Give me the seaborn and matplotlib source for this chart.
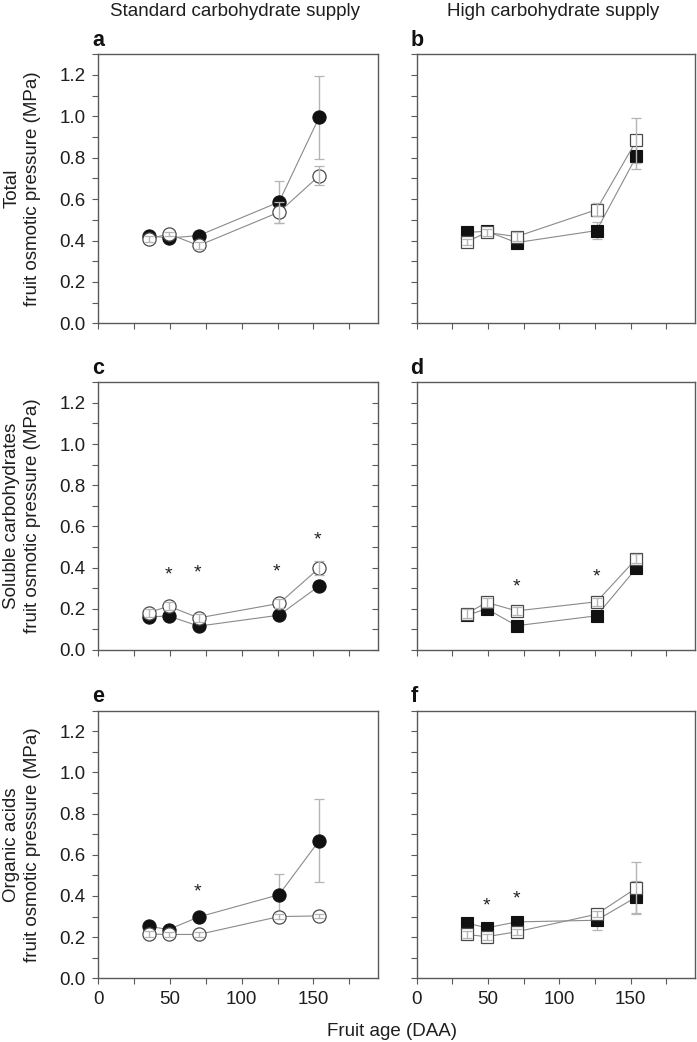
import matplotlib
matplotlib.use("Agg")
import matplotlib.pyplot as plt
from matplotlib.ticker import MultipleLocator
import seaborn as sns

sns.set_style("ticks")
plt.rcParams['font.family'] = ['Liberation Sans', 'DejaVu Sans']

# ---------------- data ----------------
days = [35, 49, 70, 126, 154]

# Total osmotic pressure
total_std_filled = [0.424, 0.412, 0.424, 0.586, 0.996]
total_std_filled_err = [0.01, 0.015, 0.01, 0.10, 0.20]
total_std_open = [0.407, 0.432, 0.376, 0.537, 0.713]
total_std_open_err = [0.015, 0.01, 0.015, 0.05, 0.045]
total_high_filled = [0.439, 0.445, 0.390, 0.448, 0.807]
total_high_filled_err = [0.01, 0.01, 0.01, 0.04, 0.06]
total_high_open = [0.394, 0.439, 0.419, 0.549, 0.884]
total_high_open_err = [0.015, 0.015, 0.02, 0.03, 0.11]

# Soluble carbohydrates
sugar_std_filled = [0.161, 0.165, 0.116, 0.169, 0.311]
sugar_std_filled_err = [0.01, 0.01, 0.01, 0.01, 0.01]
sugar_std_open = [0.181, 0.213, 0.156, 0.226, 0.398]
sugar_std_open_err = [0.02, 0.02, 0.02, 0.02, 0.035]
sugar_high_filled = [0.168, 0.200, 0.118, 0.166, 0.398]
sugar_high_filled_err = [0.01, 0.01, 0.01, 0.01, 0.01]
sugar_high_open = [0.177, 0.231, 0.190, 0.234, 0.444]
sugar_high_open_err = [0.02, 0.02, 0.02, 0.02, 0.02]

# Organic acids
acid_std_filled = [0.253, 0.237, 0.298, 0.406, 0.669]
acid_std_filled_err = [0.01, 0.01, 0.01, 0.10, 0.20]
acid_std_open = [0.215, 0.213, 0.213, 0.300, 0.303]
acid_std_open_err = [0.015, 0.01, 0.01, 0.01, 0.01]
acid_high_filled = [0.269, 0.245, 0.274, 0.282, 0.395]
acid_high_filled_err = [0.01, 0.01, 0.01, 0.045, 0.08]
acid_high_open = [0.213, 0.202, 0.226, 0.311, 0.439]
acid_high_open_err = [0.015, 0.015, 0.015, 0.015, 0.125]

# significance stars (x, y)
stars_c = ([49, 69, 124, 153], [0.366, 0.373, 0.379, 0.535])
stars_d = ([70, 126], [0.306, 0.355])
stars_e = ([69], [0.421])
stars_f = ([49, 70], [0.352, 0.387])
stars_empty = ([], [])

col_titles = ["Standard carbohydrate supply", "High carbohydrate supply"]
row_labels = ["Total\nfruit osmotic pressure (MPa)",
              "Soluble carbohydrates\nfruit osmotic pressure (MPa)",
              "Organic acids\nfruit osmotic pressure (MPa)"]
panel_letters = ["a", "b", "c", "d", "e", "f"]
x_ticks = [0, 50, 100, 150]
y_ticks = [0.0, 0.2, 0.4, 0.6, 0.8, 1.0, 1.2]

panels = [
    (total_std_filled, total_std_filled_err, total_std_open, total_std_open_err, 'o', stars_empty),
    (total_high_filled, total_high_filled_err, total_high_open, total_high_open_err, 's', stars_empty),
    (sugar_std_filled, sugar_std_filled_err, sugar_std_open, sugar_std_open_err, 'o', stars_c),
    (sugar_high_filled, sugar_high_filled_err, sugar_high_open, sugar_high_open_err, 's', stars_d),
    (acid_std_filled, acid_std_filled_err, acid_std_open, acid_std_open_err, 'o', stars_e),
    (acid_high_filled, acid_high_filled_err, acid_high_open, acid_high_open_err, 's', stars_f),
]

# ---------------- figure ----------------
W, H = 697, 1042
fig = plt.figure(figsize=(W / 100, H / 100), dpi=100)

col_left = [98.3, 416.7]
col_right = [378.0, 695.0]
row_top = [54.3, 382.3, 710.7]
row_bot = [323.3, 650.0, 978.3]

spine_col = '#5a5a5a'
line_col = '#8a8a8a'
err_col = '#b5b5b5'
open_edge = '#4a4a4a'
text_col = '#1e1e1e'
FS = 13.5

for i, (fv, fe, ov, oe, mk, stars) in enumerate(panels):
    r, c = divmod(i, 2)
    l = col_left[c] / W
    b = 1 - row_bot[r] / H
    w = (col_right[c] - col_left[c]) / W
    h = (row_bot[r] - row_top[r]) / H
    ax = fig.add_axes([l, b, w, h])

    ms = 9.5 if mk == 'o' else 8.3

    # filled series
    ax.errorbar(days, fv, yerr=fe, fmt='none', ecolor=err_col, elinewidth=1.0,
                capsize=3.4, capthick=0.9, zorder=2)
    sns.lineplot(x=days, y=fv, ax=ax, color=line_col, lw=0.8, marker=mk,
                 markersize=ms, markerfacecolor='#111111', markeredgecolor='#111111',
                 markeredgewidth=0.8, sort=False, errorbar=None, zorder=3)
    # open series
    sns.lineplot(x=days, y=ov, ax=ax, color=line_col, lw=0.8, marker=mk,
                 markersize=ms, markerfacecolor='white', markeredgecolor=open_edge,
                 markeredgewidth=0.9, sort=False, errorbar=None, zorder=4)
    ax.errorbar(days, ov, yerr=oe, fmt='none', ecolor=err_col, elinewidth=1.0,
                capsize=3.4, capthick=0.9, zorder=5)

    for sx, sy in zip(*stars):
        ax.text(sx, sy, "*", ha='center', va='center', fontsize=14,
                color='#222222', zorder=6)

    ax.set_xlim(0, 195)
    ax.set_ylim(0, 1.3)
    ax.set_xticks(x_ticks)
    ax.xaxis.set_minor_locator(MultipleLocator(25))
    ax.set_yticks(y_ticks)
    ax.yaxis.set_minor_locator(MultipleLocator(0.1))
    ax.tick_params(which='both', direction='out', length=4, width=0.8,
                   color=spine_col, labelsize=FS, labelcolor=text_col, pad=5)
    for sp in ax.spines.values():
        sp.set_color(spine_col)
        sp.set_linewidth(1.0)
    ax.set_xlabel("")
    ax.set_ylabel("")

    if r < 2:
        ax.set_xticklabels([])
    if c == 1:
        ax.set_yticklabels([])
    else:
        ax.set_yticklabels([f"{v:.1f}" for v in y_ticks])
        fig.text(22 / W, 1 - (row_top[r] + row_bot[r]) / 2 / H, row_labels[r],
                 rotation=90, ha='center', va='center', multialignment='center',
                 fontsize=FS, color=text_col, linespacing=1.25)

    if i == 2:
        ax2 = ax.twinx()
        ax2.set_ylim(0, 1.3)
        ax2.set_yticks(y_ticks)
        ax2.yaxis.set_minor_locator(MultipleLocator(0.1))
        ax2.tick_params(which='both', direction='in', length=4, width=0.8,
                        color=spine_col, labelright=False)
        for sp in ax2.spines.values():
            sp.set_visible(False)

    ax.text(-0.022, 1.012, panel_letters[i], transform=ax.transAxes,
            fontsize=15.5, fontweight='bold', ha='left', va='bottom', color='#111111')

    if r == 0:
        fig.text((col_left[c] + col_right[c]) / 2 / W - 3 / W, 1 - 12 / H, col_titles[c],
                 ha='center', va='center', fontsize=FS, color=text_col)

fig.text(392 / W, 1 - 1031 / H, "Fruit age (DAA)", ha='center', va='center',
         fontsize=FS, color=text_col)

fig.savefig("out.png", dpi=100)
